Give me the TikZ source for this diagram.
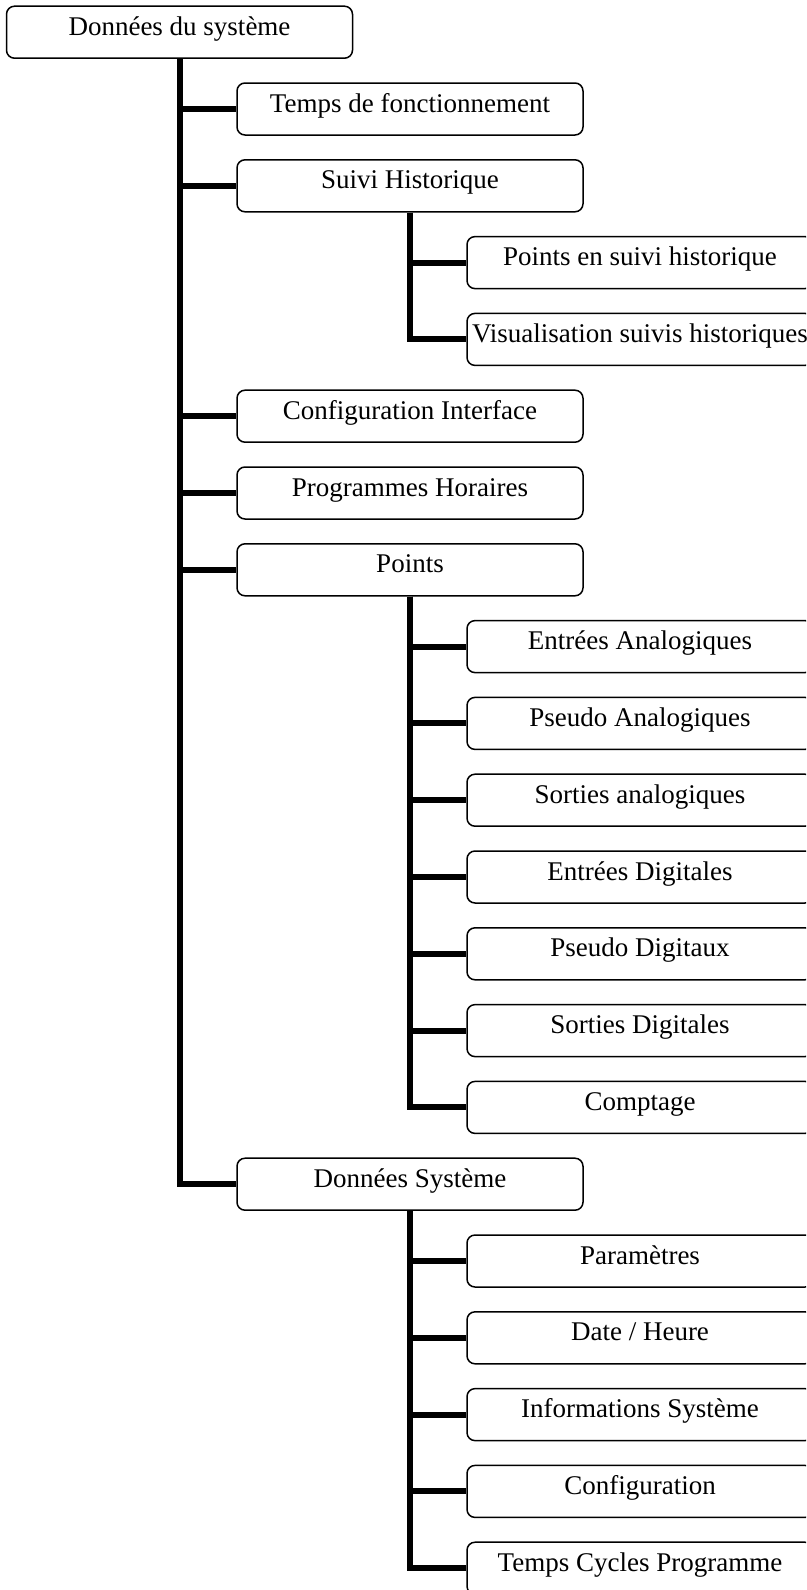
\documentclass[tikz,border=0pt]{standalone}
\usepackage{fontspec}
\setmainfont{Liberation Serif}
\usepackage{tikz}

\tikzset{
    box/.style={draw, rounded corners=8pt, line width=1.5pt, minimum width=346pt,
        minimum height=52pt, text height=29pt, text depth=23pt, inner sep=0pt,
        font=\fontsize{27}{31}\selectfont},
    branch/.style={line width=6pt}
}

\begin{document}
\begin{tikzpicture}[x=1pt,y=-1pt]
    \useasboundingbox (0,0) rectangle (806,1590);
    \clip (0,0) rectangle (806,1590);
    \pgfmathsetmacro{\r}{76.8}	%row pitch
    \pgfmathsetmacro{\y}{32.2}	%first row

    % root
    \node[box] (root) at (179.5,\y) {Données du système};

    % level 1
    \node[box] (temps)  at (410,\y+1*\r)  {Temps de fonctionnement};
    \node[box] (suivi)  at (410,\y+2*\r)  {Suivi Historique};
    \node[box] (config) at (410,\y+5*\r)  {Configuration Interface};
    \node[box] (prog)   at (410,\y+6*\r)  {Programmes Horaires};
    \node[box] (points) at (410,\y+7*\r)  {Points};
    \node[box] (dsys)   at (410,\y+15*\r) {Données Système};

    % level 2
    \node[box] (ptsuivi) at (640,\y+3*\r)  {Points en suivi historique};
    \node[box] (visu)    at (640,\y+4*\r)  {Visualisation suivis historiques};

    \node[box] (ea) at (640,\y+8*\r)  {Entrées Analogiques};
    \node[box] (pa) at (640,\y+9*\r)  {Pseudo Analogiques};
    \node[box] (sa) at (640,\y+10*\r) {Sorties analogiques};
    \node[box] (ed) at (640,\y+11*\r) {Entrées Digitales};
    \node[box] (pd) at (640,\y+12*\r) {Pseudo Digitaux};
    \node[box] (sd) at (640,\y+13*\r) {Sorties Digitales};
    \node[box] (cpt) at (640,\y+14*\r) {Comptage};

    \node[box] (param) at (640,\y+16*\r) {Paramètres};
    \node[box] (date)  at (640,\y+17*\r) {Date / Heure};
    \node[box] (info)  at (640,\y+18*\r) {Informations Système};
    \node[box] (conf)  at (640,\y+19*\r) {Configuration};
    \node[box] (cycl)  at (640,\y+20*\r) {Temps Cycles Programme};

    % connectors
    \foreach \c in {temps,suivi,config,prog,points,dsys}
        \draw[branch] (root.south) |- (\c.west);
    \foreach \c in {ptsuivi,visu}
        \draw[branch] (suivi.south) |- (\c.west);
    \foreach \c in {ea,pa,sa,ed,pd,sd,cpt}
        \draw[branch] (points.south) |- (\c.west);
    \foreach \c in {param,date,info,conf,cycl}
        \draw[branch] (dsys.south) |- (\c.west);
\end{tikzpicture}
\end{document}
